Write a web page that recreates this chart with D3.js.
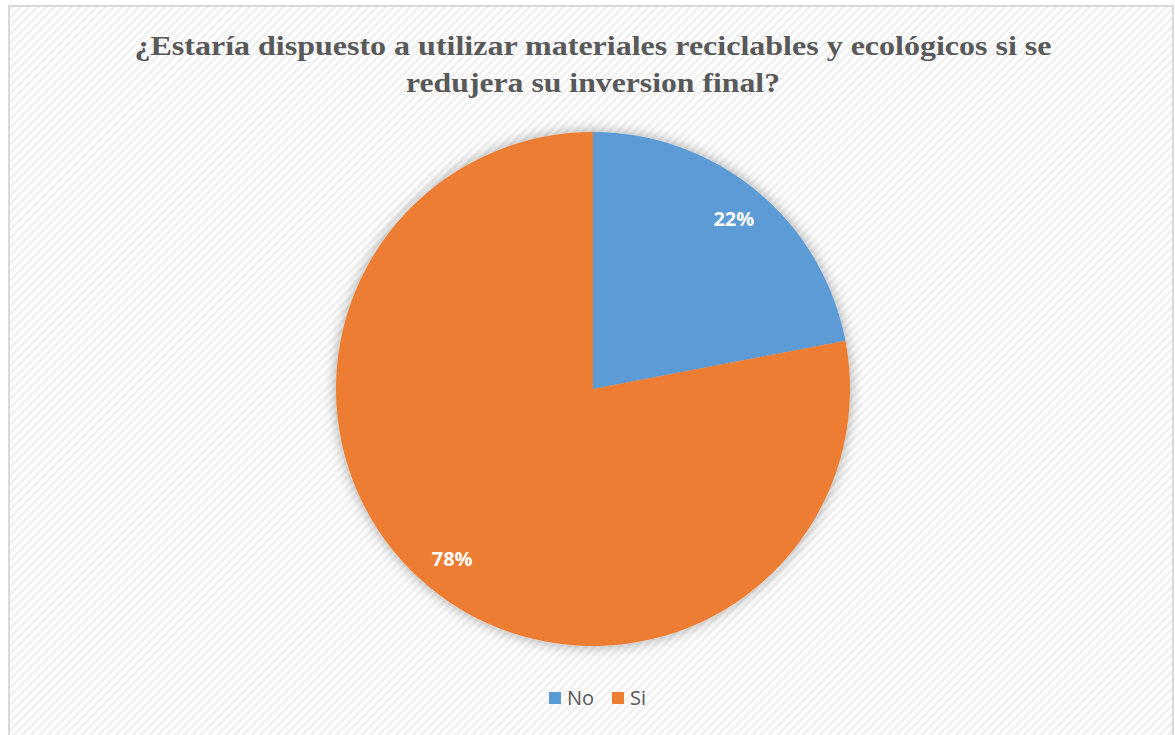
<!DOCTYPE html>
<html>
<head>
<meta charset="utf-8">
<script src="https://cdn.jsdelivr.net/npm/d3@7"></script>
<style>
	body { margin: 0; background: #fff; }
	svg { display: block; }
</style>
</head>
<body>
<svg id="chart" width="1175" height="735"></svg>
<script>
/*
** Pie chart: disposicion a usar materiales reciclables.
*/

var categories = ["No", "Si"];
var values = [22, 78];
var colors = ["#5b9bd5", "#ed7d31"];
var titleLines = [
	"¿Estaría dispuesto a utilizar materiales reciclables y ecológicos si se",
	"redujera su inversion final?"
];

var width = 1175, height = 735;
var cx = 593, cy = 389, radius = 257;

var svg = d3.select("#chart");
var defs = svg.append("defs");

// diagonal stripes in the background
var pattern = defs.append("pattern")
	.attr("id", "stripes")
	.attr("patternUnits", "userSpaceOnUse")
	.attr("width", 6)
	.attr("height", 6)
	.attr("patternTransform", "rotate(45)");
pattern.append("rect")
	.attr("width", 6).attr("height", 6)
	.attr("fill", "#ffffff");
pattern.append("rect")
	.attr("width", 3).attr("height", 6)
	.attr("fill", "#f1f1f1");

// soft shadow around the pie
var filter = defs.append("filter")
	.attr("id", "shadow")
	.attr("x", "-20%").attr("y", "-20%")
	.attr("width", "140%").attr("height", "140%");
filter.append("feGaussianBlur")
	.attr("in", "SourceAlpha")
	.attr("stdDeviation", 7);
filter.append("feComponentTransfer")
	.append("feFuncA").attr("type", "linear").attr("slope", 0.35);
var merge = filter.append("feMerge");
merge.append("feMergeNode");
merge.append("feMergeNode").attr("in", "SourceGraphic");

// frame
svg.append("rect")
	.attr("x", 9).attr("y", 6)
	.attr("width", width - 11).attr("height", height - 4)
	.attr("fill", "url(#stripes)")
	.attr("stroke", "#d9d9d9")
	.attr("stroke-width", 2);

// title (the original is a bit stretched sideways)
var titleWidths = [917, 374];
svg.append("g")
	.selectAll("text")
	.data(titleLines)
	.enter()
	.append("text")
		.attr("x", function(d, i) { return 593 - titleWidths[i] / 2; })
		.attr("y", function(d, i) { return 55 + i * 37; })
		.attr("textLength", function(d, i) { return titleWidths[i]; })
		.attr("lengthAdjust", "spacingAndGlyphs")
		.attr("font-family", "Liberation Serif, Times New Roman, serif")
		.attr("font-weight", "bold")
		.attr("font-size", 27)
		.attr("fill", "#595959")
		.text(function(d) { return d; });

var pie = d3.pie().sort(null).value(function(d) { return d; });
var arcs = pie(values);

var arc = d3.arc().innerRadius(0).outerRadius(radius);
var labelArc = d3.arc().innerRadius(221).outerRadius(221);

var g = svg.append("g")
	.attr("transform", "translate(" + cx + "," + cy + ")");

g.append("g")
	.attr("filter", "url(#shadow)")
	.selectAll("path")
	.data(arcs)
	.enter()
	.append("path")
		.attr("d", arc)
		.attr("fill", function(d, i) { return colors[i]; });

var total = d3.sum(values);
g.selectAll("text.info")
	.data(arcs)
	.enter()
	.append("text")
		.attr("class", "info")
		.attr("transform", function(d) { return "translate(" + labelArc.centroid(d) + ")"; })
		.attr("dy", "0.35em")
		.attr("text-anchor", "middle")
		.attr("font-family", "Open Sans, sans-serif")
		.attr("font-weight", "bold")
		.attr("font-size", 20)
		.attr("fill", "#ffffff")
		.text(function(d) { return d3.format(".0%")(d.value / total); });

// legend
var legend = svg.append("g")
	.attr("transform", "translate(549,692)");
var items = legend.selectAll("g")
	.data(categories)
	.enter()
	.append("g")
		.attr("transform", function(d, i) { return "translate(" + (i * 63) + ",0)"; });
items.append("rect")
	.attr("width", 12).attr("height", 12)
	.attr("fill", function(d, i) { return colors[i]; });
items.append("text")
	.attr("x", 18)
	.attr("y", 6)
	.attr("dy", "0.35em")
	.attr("font-family", "Open Sans, sans-serif")
	.attr("font-size", 20)
	.attr("fill", "#595959")
	.text(function(d) { return d; });
</script>
</body>
</html>
